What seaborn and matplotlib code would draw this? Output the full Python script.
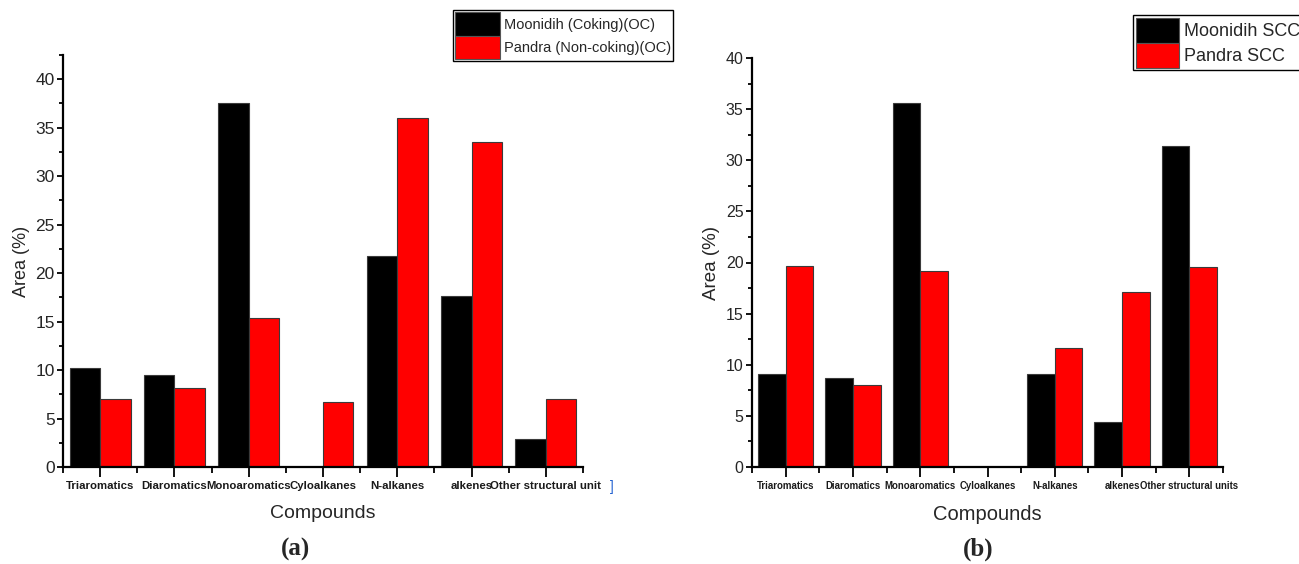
import matplotlib
matplotlib.use("Agg")
import matplotlib.pyplot as plt
from matplotlib.patches import Patch
from matplotlib.ticker import MultipleLocator
import seaborn as sns
import pandas as pd

sns.set_theme(style="white")
plt.rcParams['font.family'] = ['Liberation Sans', 'DejaVu Sans']

# ---- data ----
compounds_a = ["Triaromatics", "Diaromatics", "Monoaromatics", "Cyloalkanes",
               "N-alkanes", "alkenes", "Other structural unit"]
compounds_b = ["Triaromatics", "Diaromatics", "Monoaromatics", "Cyloalkanes",
               "N-alkanes", "alkenes", "Other structural units"]
series_a = ["Moonidih (Coking)(OC)", "Pandra (Non-coking)(OC)"]
moonidih_oc = [10.2, 9.5, 37.6, 0.0, 21.8, 17.6, 2.85]
pandra_oc = [7.0, 8.1, 15.4, 6.7, 36.0, 33.5, 7.0]
series_b = ["Moonidih SCC", "Pandra SCC"]
moonidih_scc = [9.1, 8.7, 35.6, 0.0, 9.1, 4.4, 31.4]
pandra_scc = [19.7, 8.05, 19.2, 0.0, 11.6, 17.1, 19.6]
colors = ["#000000", "#ff0000"]

W, H = 1299, 564
fig = plt.figure(figsize=(W / 100, H / 100), dpi=100)

def fx(px):
    return px / W

def fy(py):
    return 1 - py / H

ax_a = fig.add_axes([fx(63), fy(467), fx(583 - 63), (467 - 55) / H])
ax_b = fig.add_axes([fx(752), fy(467), fx(1223 - 752), (467 - 58) / H])

def panel(ax, cats, names, v1, v2, ymax, tick_fs, lab_fs, ylab_fs, xlab_fs):
    df = pd.DataFrame({
        "Compound": cats * 2,
        "Area": v1 + v2,
        "Sample": [names[0]] * len(cats) + [names[1]] * len(cats),
    })
    sns.barplot(data=df, x="Compound", y="Area", hue="Sample", order=cats,
                hue_order=names, palette=colors, width=0.82, gap=0,
                edgecolor="#3a3a3a", linewidth=0.8, legend=False, ax=ax,
                saturation=1)
    ax.set_xlim(-0.5, 6.5)
    ax.set_ylim(0, ymax)
    for s in ["top", "right"]:
        ax.spines[s].set_visible(False)
    for s in ["left", "bottom"]:
        ax.spines[s].set_color("black")
        ax.spines[s].set_linewidth(1.6)
    ax.yaxis.set_major_locator(MultipleLocator(5))
    ax.yaxis.set_minor_locator(MultipleLocator(2.5))
    ax.xaxis.set_minor_locator(MultipleLocator(0.5))
    ax.tick_params(axis="y", which="major", direction="out", length=4.5,
                   width=1.3, color="black", left=True)
    ax.tick_params(axis="y", which="minor", direction="out", length=3,
                   width=1.3, color="black", left=True)
    ax.tick_params(axis="x", which="major", direction="out", length=7,
                   width=1.3, color="black", bottom=True)
    ax.tick_params(axis="x", which="minor", direction="out", length=4,
                   width=1.3, color="black", bottom=True)
    ax.tick_params(axis="y", labelsize=lab_fs, pad=1.5)
    ax.tick_params(axis="x", labelsize=tick_fs, pad=3)
    for t in ax.get_xticklabels():
        t.set_fontweight("bold")
        t.set_color("#1a1a1a")
    ax.set_ylabel("Area (%)", fontsize=ylab_fs, labelpad=4)
    ax.set_xlabel("Compounds", fontsize=xlab_fs, labelpad=10)
    ax.set_facecolor("white")

panel(ax_a, compounds_a, series_a, moonidih_oc, pandra_oc, 42.5, 8.2, 12.5, 13, 14)
panel(ax_b, compounds_b, series_b, moonidih_scc, pandra_scc, 40, 6.9, 11.5, 13.5, 14.5)

# legends
def legend(ax, names, x0, y0, fs, hl, hh):
    handles = [Patch(facecolor=c, edgecolor="#555555", linewidth=0.8) for c in colors]
    leg = ax.legend(handles, names, loc="upper left",
                    bbox_to_anchor=(fx(x0), fy(y0)), bbox_transform=fig.transFigure,
                    fontsize=fs, frameon=True, fancybox=False, framealpha=1,
                    edgecolor="black", handlelength=hl, handleheight=hh,
                    labelspacing=0.0, borderpad=0.15, handletextpad=0.25,
                    borderaxespad=0)
    leg.get_frame().set_linewidth(1.0)
    leg.set_in_layout(False)
    return leg

legend(ax_a, series_a, 453, 10, 10.5, 3.1, 2.1)
legend(ax_b, series_b, 1133, 15, 13, 2.4, 1.75)

# small blue bracket artifact after the last label in (a)
fig.text(fx(610), fy(487), "]", color="#1f5fd0", fontsize=10, ha="left", va="center")

# panel captions
fig.text(fx(296), fy(549), "(a)", family="Liberation Serif", fontweight="bold",
         fontsize=18, ha="center", va="center")
fig.text(fx(978), fy(549), "(b)", family="Liberation Serif", fontweight="bold",
         fontsize=18, ha="center", va="center")

fig.savefig("out.png", dpi=100, facecolor="white")
